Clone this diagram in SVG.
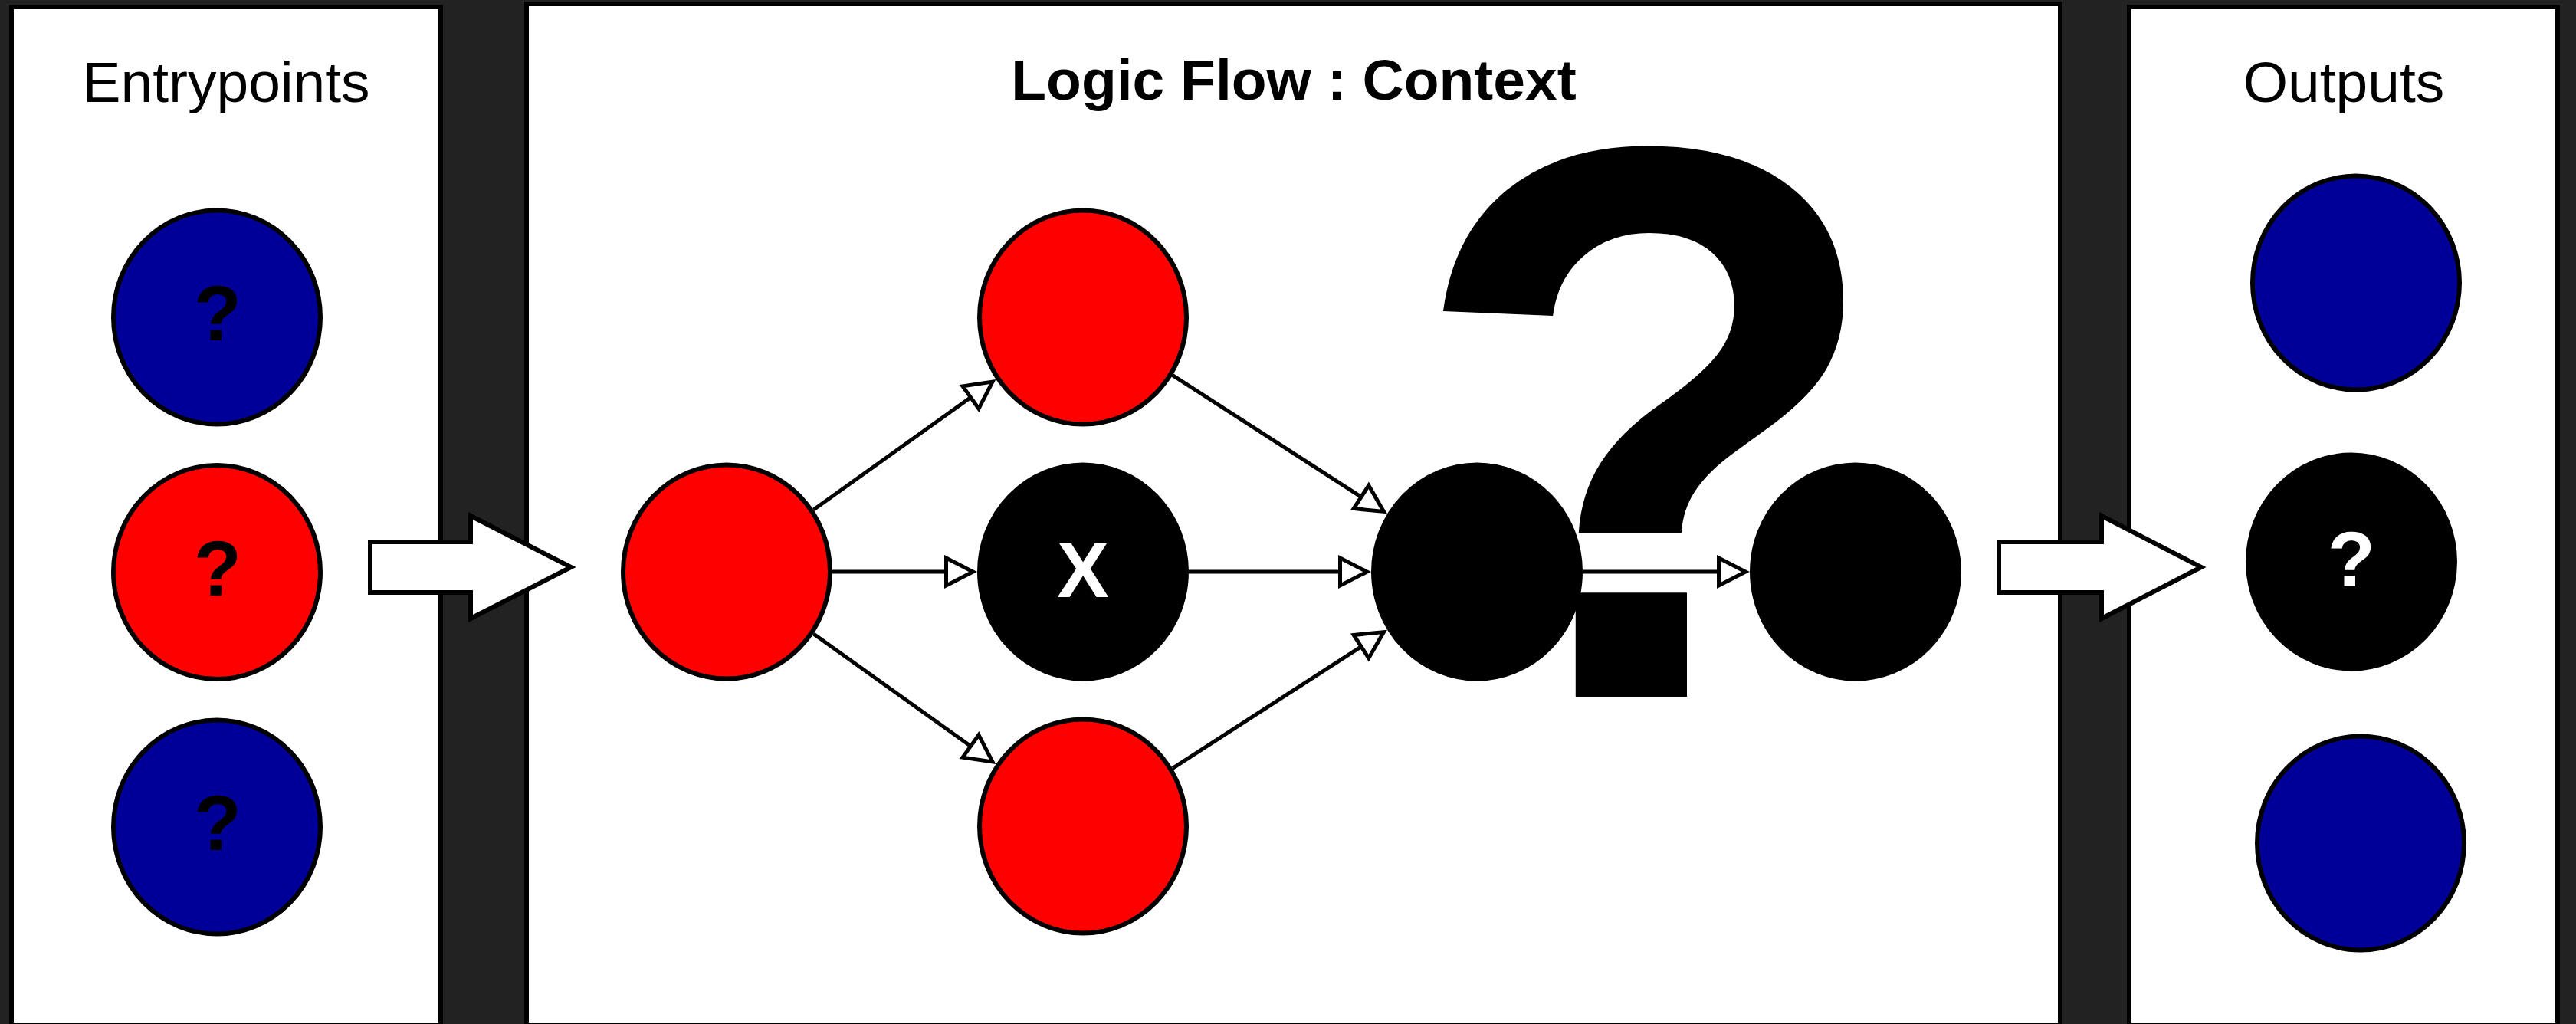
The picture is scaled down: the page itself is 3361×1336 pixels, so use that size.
<svg xmlns="http://www.w3.org/2000/svg" width="3361" height="1336" viewBox="0 0 3361 1336">
  <style>
    .panel { fill: #ffffff; stroke: #000000; stroke-width: 6; }
    .title { font-family: "Liberation Sans", Arial, sans-serif; font-size: 75px; fill: #000000; text-anchor: middle; }
    .bold { font-weight: bold; }
    .node { stroke: #000000; stroke-width: 6; }
    .red { fill: #ff0000; }
    .blue { fill: #000099; }
    .black { fill: #000000; }
    .lbl { font-family: "Liberation Sans", Arial, sans-serif; font-weight: bold; font-size: 102px; text-anchor: middle; }
    .conn { fill: none; stroke: #000000; stroke-width: 5; }
    .block { fill: #ffffff; stroke: #000000; stroke-width: 6; }
  </style>
  <defs>
    <marker id="open" markerUnits="userSpaceOnUse" markerWidth="50" markerHeight="50" refX="0" refY="0" orient="auto" overflow="visible">
      <path d="M0,-18 L35,0 L0,18 Z" fill="#ffffff" stroke="#000000" stroke-width="5"/>
    </marker>
  </defs>
  <rect x="0" y="0" width="3361" height="1336" fill="#222222"/>

  <g id="panel-entrypoints">
    <rect class="panel" x="15" y="9" width="560" height="1329"/>
    <text class="title" x="295" y="133">Entrypoints</text>
  </g>
  <g id="panel-logic">
    <rect class="panel" x="687" y="5" width="2001" height="1333"/>
    <text class="title bold" x="1688" y="130">Logic Flow : Context</text>
  </g>
  <g id="panel-outputs">
    <rect class="panel" x="2778" y="9" width="559" height="1329"/>
    <text class="title" x="3058" y="133">Outputs</text>
  </g>

  <g id="entry-1">
    <ellipse class="node blue" cx="283" cy="414" rx="135" ry="139.5"/>
    <text class="lbl" x="284" y="444" fill="#000000">?</text>
  </g>
  <g id="entry-2">
    <ellipse class="node red" cx="283" cy="746.5" rx="135" ry="139.5"/>
    <text class="lbl" x="284" y="777" fill="#000000">?</text>
  </g>
  <g id="entry-3">
    <ellipse class="node blue" cx="283" cy="1079" rx="135" ry="139.5"/>
    <text class="lbl" x="284" y="1109" fill="#000000">?</text>
  </g>

  <g id="big-question">
    <text x="2150" y="909" font-family="Liberation Sans, Arial, sans-serif" font-weight="bold" font-size="1029" text-anchor="middle" fill="#000000">?</text>
  </g>

  <g id="node-a">
    <ellipse class="node red" cx="948" cy="746" rx="135" ry="139.5"/>
  </g>
  <g id="node-b">
    <ellipse class="node red" cx="1413" cy="414" rx="135" ry="139.5"/>
  </g>
  <g id="node-c">
    <ellipse class="node black" cx="1413" cy="746" rx="135" ry="139.5"/>
    <text class="lbl" x="1413" y="779" fill="#ffffff" font-size="100">X</text>
  </g>
  <g id="node-d">
    <ellipse class="node red" cx="1413" cy="1078" rx="135" ry="139.5"/>
  </g>
  <g id="node-e">
    <ellipse class="node black" cx="1927" cy="746" rx="135" ry="139.5"/>
  </g>
  <g id="node-f">
    <ellipse class="node black" cx="2421" cy="746" rx="135" ry="139.5"/>
  </g>

  <g id="out-1">
    <ellipse class="node blue" cx="3074" cy="369" rx="135" ry="139.5"/>
  </g>
  <g id="out-2">
    <ellipse class="node black" cx="3068" cy="733" rx="135" ry="139.5"/>
    <text class="lbl" x="3068" y="765" fill="#ffffff">?</text>
  </g>
  <g id="out-3">
    <ellipse class="node blue" cx="3080" cy="1100" rx="135" ry="139.5"/>
  </g>

  <g id="connectors">
    <path class="conn" marker-end="url(#open)" d="M1061.5,665 L1266.5,518.5"/>
    <path class="conn" marker-end="url(#open)" d="M1086,746 L1234.5,746"/>
    <path class="conn" marker-end="url(#open)" d="M1061.5,827 L1266.5,973.5"/>
    <path class="conn" marker-end="url(#open)" d="M1530,489.6 L1776,648.4"/>
    <path class="conn" marker-end="url(#open)" d="M1551,746 L1748.5,746"/>
    <path class="conn" marker-end="url(#open)" d="M1530,1002.4 L1776,843.6"/>
    <path class="conn" marker-end="url(#open)" d="M2065,746 L2242.5,746"/>
    <polygon id="block-arrow-in" class="block" points="483,707 614,707 614,673 745,740 614,807 614,773 483,773"/>
    <polygon id="block-arrow-out" class="block" points="2608,707 2742,707 2742,673 2872,740 2742,807 2742,773 2608,773"/>
  </g>
</svg>
